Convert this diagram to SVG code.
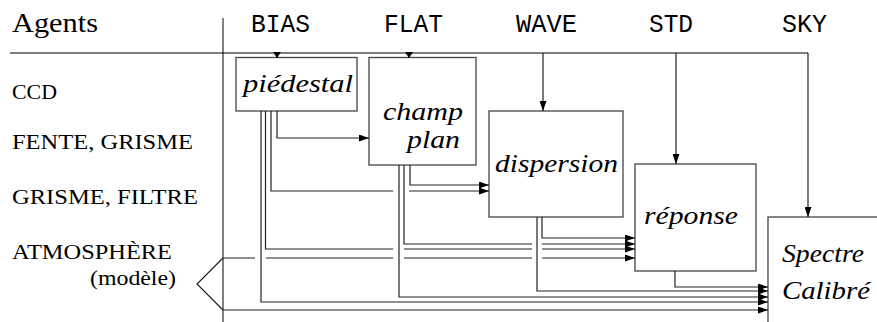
<svg xmlns="http://www.w3.org/2000/svg" width="877" height="322" viewBox="0 0 877 322">
<defs>
<marker id="arr" markerUnits="userSpaceOnUse" markerWidth="10" markerHeight="7" refX="10" refY="3.5" orient="auto">
<path d="M0,0 L10,3.5 L0,7 Z" fill="#000"/>
</marker>
<marker id="arrS" markerUnits="userSpaceOnUse" markerWidth="6" markerHeight="8" refX="6" refY="4" orient="auto">
<path d="M0,0 L6,4 L0,8 Z" fill="#000"/>
</marker>
</defs>
<style>
.box{fill:#fff;stroke:#444;stroke-width:1.3}
.ln{fill:none;stroke:#222;stroke-width:1.2}
.ce{marker-end:url(#arr)}
.cs{marker-end:url(#arrS)}
.lbl{font-size:21px;fill:#000}
.hd{font-size:27px;fill:#000}
.mono{font-size:25px;fill:#000;text-anchor:middle}
.it{font-style:italic;font-size:26px;fill:#000}
</style>
<rect width="877" height="322" fill="#fff"/>

<g id="header">
<text class="hd" font-family="Liberation Serif, Times New Roman, DejaVu Serif, serif" x="12" y="32" textLength="86" lengthAdjust="spacingAndGlyphs">Agents</text>
<g font-family="Liberation Mono, Courier New, monospace">
<text class="mono" x="280.5" y="32" textLength="59" lengthAdjust="spacingAndGlyphs">BIAS</text>
<text class="mono" x="413.5" y="32" textLength="59" lengthAdjust="spacingAndGlyphs">FLAT</text>
<text class="mono" x="546.5" y="32" textLength="61" lengthAdjust="spacingAndGlyphs">WAVE</text>
<text class="mono" x="671" y="32" textLength="44" lengthAdjust="spacingAndGlyphs">STD</text>
<text class="mono" x="804.5" y="32" textLength="45" lengthAdjust="spacingAndGlyphs">SKY</text>
</g>
<path class="ln" d="M10,53 H808" style="stroke:#555;stroke-width:1.4"/>
<path class="ln" d="M223,18 V322" style="stroke:#000;stroke-width:1"/>
</g>

<g id="labels" font-family="Liberation Serif, Times New Roman, DejaVu Serif, serif">
<text class="lbl" x="12" y="99" textLength="45" lengthAdjust="spacingAndGlyphs">CCD</text>
<text class="lbl" x="12" y="149" textLength="181" lengthAdjust="spacingAndGlyphs">FENTE, GRISME</text>
<text class="lbl" x="12" y="204" textLength="186" lengthAdjust="spacingAndGlyphs">GRISME, FILTRE</text>
<text class="lbl" x="12" y="259" textLength="160" lengthAdjust="spacingAndGlyphs">ATMOSPHÈRE</text>
<text class="lbl" x="90" y="285" textLength="86" lengthAdjust="spacingAndGlyphs">(modèle)</text>
</g>

<g id="modele">
<polyline class="ln" points="223,258 197,284 223,310"/>
</g>

<g id="nodes" font-family="Liberation Serif, Times New Roman, DejaVu Serif, serif">
<g id="piedestal">
<rect class="box" x="236" y="57.5" width="121" height="53.5"/>
<text class="it" x="243" y="92" textLength="110" lengthAdjust="spacingAndGlyphs">piédestal</text>
</g>

<g id="champ-plan">
<rect class="box" x="369" y="57.5" width="107" height="107.5"/>
<text class="it" x="383" y="120" textLength="80" lengthAdjust="spacingAndGlyphs">champ</text>
<text class="it" x="407" y="148" textLength="53" lengthAdjust="spacingAndGlyphs">plan</text>
</g>

<g id="dispersion">
<rect class="box" x="489" y="111" width="134" height="106"/>
<text class="it" x="495" y="172" textLength="123" lengthAdjust="spacingAndGlyphs">dispersion</text>
</g>

<g id="reponse">
<rect class="box" x="635" y="164" width="121" height="107"/>
<text class="it" x="644" y="224" textLength="94" lengthAdjust="spacingAndGlyphs">réponse</text>
</g>

<g id="spectre-calibre">
<rect class="box" x="768" y="217" width="130" height="120"/>
<text class="it" x="782" y="262" textLength="82" lengthAdjust="spacingAndGlyphs">Spectre</text>
<text class="it" x="782" y="299" textLength="88" lengthAdjust="spacingAndGlyphs">Calibré</text>
</g>
</g>

<g id="connectors">
<path class="ln cs" d="M277,53 V58"/>
<path class="ln cs" d="M409,53 V58"/>
<path class="ln ce" d="M543,53 V111"/>
<path class="ln ce" d="M676,53 V164"/>
<path class="ln ce" d="M808,53 V217"/>

<path class="ln ce" d="M277,111 V138 H369"/>
<path class="ln ce" d="M271,111 V191 H393 M409,191 H489"/>
<path class="ln ce" d="M265.5,111 V249 H393 M404,249 H532 M542,249 H635"/>
<path class="ln ce" d="M261,111 V302 H768"/>

<path class="ln ce" d="M223,258 H255 M266,258 H393 M404,258 H532 M542,258 H635"/>
<path class="ln ce" d="M223,310 H768"/>

<path class="ln ce" d="M410,165 V185 H489"/>
<path class="ln ce" d="M404,165 V244 H532 M542,244 H635"/>
<path class="ln ce" d="M399,165 V297 H768"/>

<path class="ln ce" d="M542,217 V238 H635"/>
<path class="ln ce" d="M537,217 V291 H768"/>

<path class="ln ce" d="M675,271 V287 H768"/>
</g>
</svg>
